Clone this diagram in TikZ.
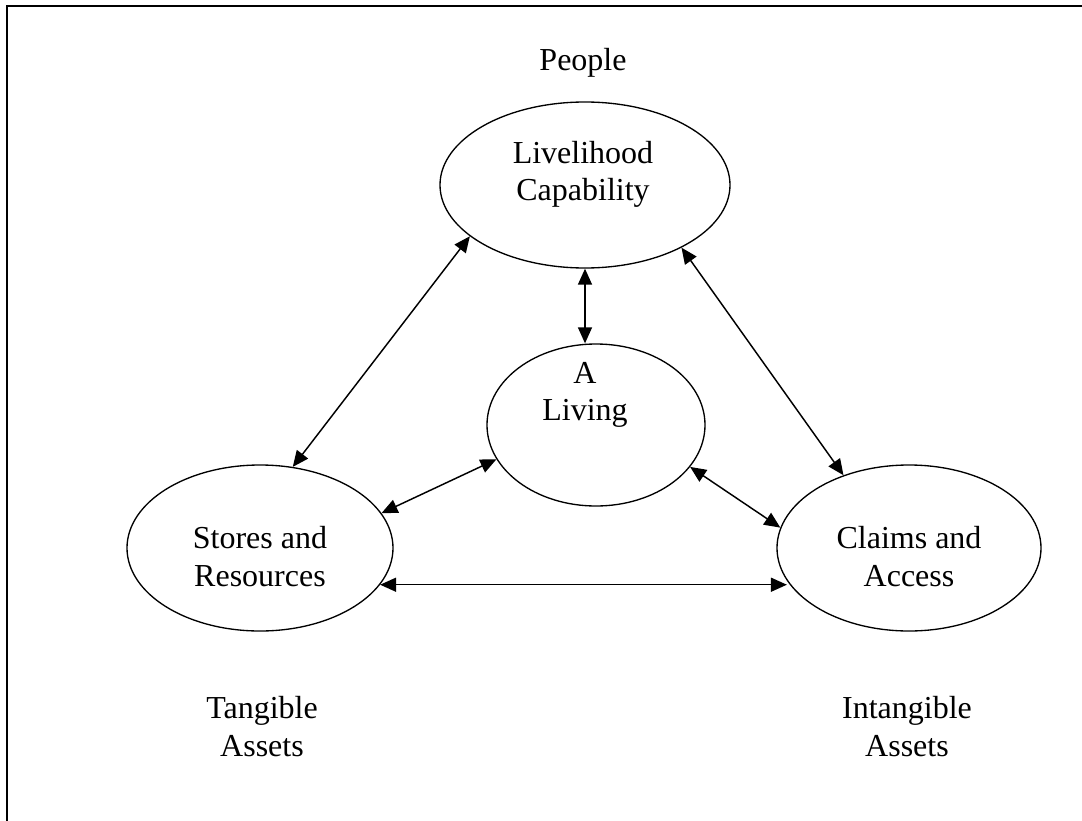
\documentclass[tikz,border=0pt]{standalone}
\usepackage{fontspec}
\setmainfont{Liberation Serif}
\usetikzlibrary{shapes.geometric,arrows.meta}
\begin{document}
\begin{tikzpicture}[x=0.75pt,y=-0.75pt,
  oval/.style={draw,ellipse,line width=1pt,inner sep=0pt},
  lbl/.style={anchor=base,inner sep=0pt,font=\fontsize{24}{28}\selectfont},
  arr/.style={line width=1.1pt,{Triangle[length=12pt,width=10.5pt]}-{Triangle[length=12pt,width=10.5pt]}}]
\useasboundingbox (0,0) rectangle (1082,821);
\draw[line width=1.3pt] (7,821) -- (7,6) -- (1082,6);
% ellipses
\node[oval,minimum width=290*0.75pt,minimum height=166*0.75pt] (lc) at (585,185) {};
\node[oval,minimum width=218*0.75pt,minimum height=162*0.75pt] (living) at (596,425) {};
\node[oval,minimum width=266*0.75pt,minimum height=166*0.75pt] (stores) at (260,548) {};
\node[oval,minimum width=264*0.75pt,minimum height=166*0.75pt] (claims) at (909,548) {};
% texts
\node[lbl] (people) at (583,70) {People};
\node[lbl] (lc1) at (583,163) {Livelihood};
\node[lbl] (lc2) at (583,200) {Capability};
\node[lbl] (lv1) at (585,383) {A};
\node[lbl] (lv2) at (585,420) {Living};
\node[lbl] (st1) at (260,548) {Stores and};
\node[lbl] (st2) at (260,586) {Resources};
\node[lbl] (cl1) at (909,548) {Claims and};
\node[lbl] (cl2) at (909,586) {Access};
\node[lbl] (ta1) at (262,718) {Tangible};
\node[lbl] (ta2) at (262,756) {Assets};
\node[lbl] (ia1) at (907,718) {Intangible};
\node[lbl] (ia2) at (907,756) {Assets};
% connectors
\draw[arr] (stores.68.2) -- (lc.204.8);
\draw[arr] (lc.south) -- (lc.south |- living.north);
\draw[arr] (claims.132.9) -- (lc.-33);
\draw[arr] (stores.16.7) -- (living.199.1);
\draw[arr] (living.-24.2) -- (claims.171.6);
\draw[arr] (stores.-17.8) -- (stores.-17.8 -| claims.195.8);
\end{tikzpicture}
\end{document}
